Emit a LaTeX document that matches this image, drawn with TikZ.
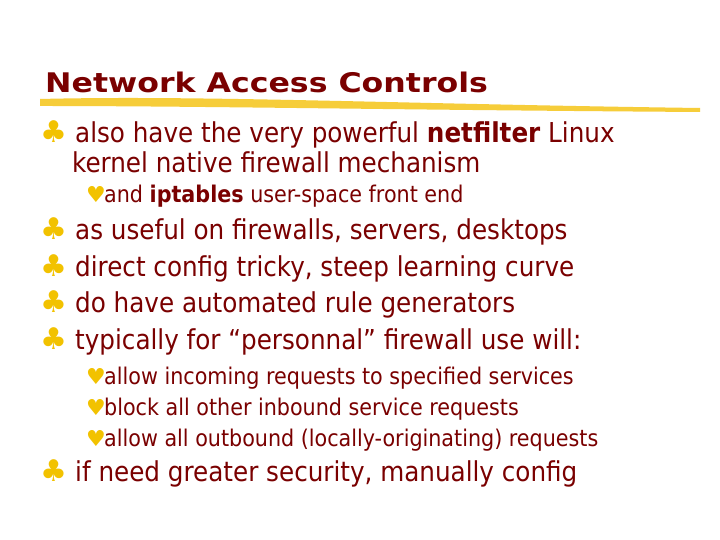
\documentclass[tikz,border=0pt]{standalone}
\usepackage{fontspec}
\setmainfont{DejaVu Sans Condensed}
\newfontfamily\titlefont{DejaVu Sans}
\newfontfamily\symfont{DejaVu Sans}
\definecolor{txt}{HTML}{7A0000}
\definecolor{gold}{HTML}{F2C200}
\definecolor{hl}{HTML}{F5C518}
\begin{document}
\begin{tikzpicture}[x=1pt,y=1pt,
  every node/.style={anchor=base west,inner sep=0pt,text=txt},
  l1/.style={font=\fontsize{27.4}{30}\selectfont},
  l2/.style={font=\fontsize{23}{26}\selectfont},
  bul/.style={text=gold,font=\symfont\fontsize{30}{30}\selectfont},
  hbul/.style={text=gold,font=\symfont\fontsize{22}{22}\selectfont}]
\useasboundingbox (0,0) rectangle (720,540);
\fill[white] (0,0) rectangle (720,540);
% highlighter stroke
\fill[hl,opacity=0.85] (40,441) .. controls (200,445) and (400,436) .. (700,432) -- (700,428) .. controls (400,430) and (200,434) .. (40,434) -- cycle;
\node[font=\titlefont\bfseries\fontsize{27}{30}\selectfont] (title) at (45,447) {\scalebox{1.17}[1]{Network Access Controls}};
\node[bul] (b1) at (40,397) {♣};
\node[l1] (t1) at (75,397) {also have the very powerful \textbf{netfilter} Linux};
\node[l1] (t1b) at (72,367) {kernel native firewall mechanism};
\node[hbul] (h1) at (86,337) {♥};
\node[l2] (s1) at (104,337) {and \textbf{iptables} user-space front end};
\node[bul] (b2) at (40,300) {♣};
\node[l1] (t2) at (75,300) {as useful on firewalls, servers, desktops};
\node[bul] (b3) at (40,263) {♣};
\node[l1] (t3) at (75,263) {direct config tricky, steep learning curve};
\node[bul] (b4) at (40,227) {♣};
\node[l1] (t4) at (75,227) {do have automated rule generators};
\node[bul] (b5) at (40,190) {♣};
\node[l1] (t5) at (75,190) {typically for “personnal” firewall use will:};
\node[hbul] (h2) at (86,155) {♥};
\node[l2] (s2) at (104,155) {allow incoming requests to specified services};
\node[hbul] (h3) at (86,124) {♥};
\node[l2] (s3) at (104,124) {block all other inbound service requests};
\node[hbul] (h4) at (86,93) {♥};
\node[l2] (s4) at (104,93) {allow all outbound (locally-originating) requests};
\node[bul] (b6) at (40,58) {♣};
\node[l1] (t6) at (75,58) {if need greater security, manually config};
\end{tikzpicture}
\end{document}
